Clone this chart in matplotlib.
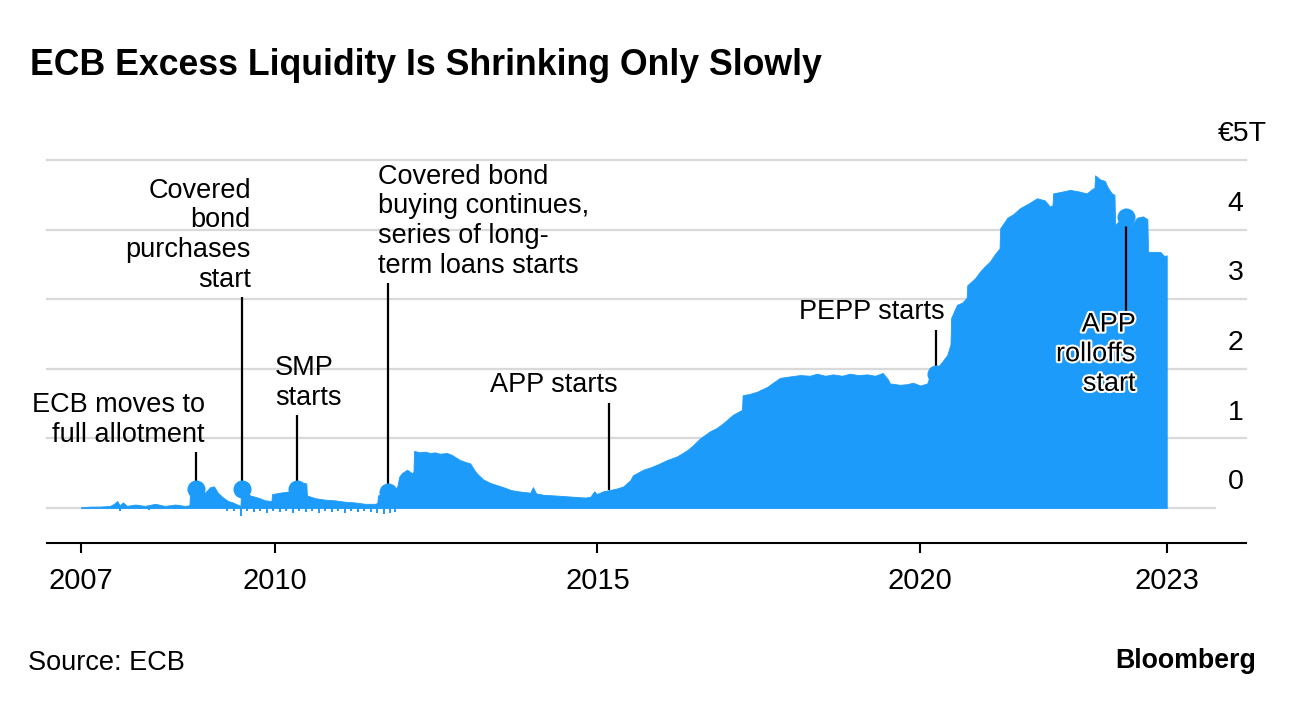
import matplotlib
matplotlib.use("Agg")
import matplotlib.pyplot as plt
import matplotlib.patheffects as pe
import matplotlib.transforms as mtransforms

plt.rcParams['font.family'] = ['Liberation Sans', 'DejaVu Sans']

# ---------------- data ----------------
dates = [
    2007.00, 2007.14, 2007.29, 2007.45, 2007.51, 2007.56, 2007.60, 2007.65, 2007.71, 2007.84, 2007.99, 2008.15, 2008.30, 2008.46, 2008.61, 2008.68,
    2008.69, 2008.78, 2008.84, 2008.92, 2009.00, 2009.06, 2009.12, 2009.20, 2009.28, 2009.35, 2009.42, 2009.47,
    2009.48, 2009.54, 2009.62, 2009.70, 2009.77, 2009.85, 2009.95,
    2009.96, 2010.08, 2010.24, 2010.26,
    2010.27, 2010.35, 2010.47, 2010.49,
    2010.50, 2010.63, 2010.78, 2010.93, 2011.09, 2011.24, 2011.40, 2011.55, 2011.59,
    2011.60, 2011.73, 2011.82, 2011.86, 2011.90, 2011.93, 2011.97, 2012.05, 2012.13, 2012.15,
    2012.16, 2012.25, 2012.33, 2012.41, 2012.48, 2012.56, 2012.67, 2012.75, 2012.87, 2012.96,
    2013.03, 2013.09, 2013.13, 2013.23, 2013.34, 2013.44, 2013.57, 2013.65, 2013.77, 2013.96,
    2014.00, 2014.05, 2014.16, 2014.34, 2014.50, 2014.65, 2014.81, 2014.89, 2014.95, 2014.99,
    2015.09, 2015.20, 2015.30, 2015.40, 2015.51, 2015.55, 2015.71, 2015.81, 2015.92, 2016.08,
    2016.23, 2016.39, 2016.48, 2016.59, 2016.74, 2016.85, 2016.95, 2017.10, 2017.24,
    2017.25, 2017.36, 2017.47, 2017.63, 2017.72, 2017.83, 2017.98, 2018.14, 2018.29, 2018.40,
    2018.53, 2018.65, 2018.79, 2018.91, 2019.04, 2019.18, 2019.30, 2019.42, 2019.50, 2019.53,
    2019.69, 2019.80, 2019.89, 2020.00, 2020.11, 2020.15, 2020.26, 2020.34, 2020.42, 2020.47,
    2020.48, 2020.57, 2020.65, 2020.72, 2020.73, 2020.85, 2020.93, 2021.00, 2021.08, 2021.16, 2021.23,
    2021.24, 2021.35, 2021.44, 2021.55, 2021.67, 2021.81, 2021.93, 2022.01, 2022.05, 2022.06,
    2022.17, 2022.32, 2022.45, 2022.58, 2022.66, 2022.70, 2022.71, 2022.79, 2022.86, 2022.91, 2022.97, 2023.01,
    2023.02, 2023.10, 2023.19, 2023.28, 2023.36, 2023.45, 2023.52,
    2023.53, 2023.64, 2023.72, 2023.78, 2023.82,
]
liquidity = [  # € trillions
    0.01, 0.02, 0.02, 0.03, 0.06, 0.10, 0.04, 0.08, 0.03, 0.05, 0.03, 0.06, 0.03, 0.05, 0.03, 0.04,
    0.25, 0.30, 0.26, 0.22, 0.30, 0.31, 0.22, 0.15, 0.10, 0.08, 0.05, 0.03,
    0.27, 0.25, 0.18, 0.16, 0.14, 0.11, 0.10,
    0.20, 0.22, 0.24, 0.25,
    0.34, 0.35, 0.36, 0.35,
    0.18, 0.14, 0.12, 0.11, 0.09, 0.08, 0.06, 0.06, 0.07,
    0.18, 0.24, 0.20, 0.26, 0.31, 0.45, 0.50, 0.55, 0.50, 0.52,
    0.82, 0.80, 0.81, 0.79, 0.80, 0.78, 0.79, 0.76, 0.69, 0.66,
    0.64, 0.55, 0.50, 0.41, 0.36, 0.33, 0.29, 0.26, 0.24, 0.22,
    0.30, 0.21, 0.19, 0.18, 0.17, 0.16, 0.15, 0.16, 0.24, 0.20,
    0.24, 0.26, 0.28, 0.31, 0.40, 0.47, 0.55, 0.58, 0.62, 0.69,
    0.74, 0.83, 0.90, 1.00, 1.10, 1.15, 1.22, 1.34, 1.41,
    1.62, 1.64, 1.67, 1.74, 1.80, 1.87, 1.89, 1.91, 1.90, 1.93,
    1.90, 1.92, 1.90, 1.93, 1.91, 1.92, 1.90, 1.94, 1.85, 1.79,
    1.77, 1.78, 1.80, 1.76, 1.79, 1.90, 2.01, 2.10, 2.20, 2.35,
    2.73, 2.92, 2.95, 3.02, 3.20, 3.30, 3.40, 3.47, 3.54, 3.65, 3.73,
    4.02, 4.17, 4.22, 4.31, 4.37, 4.45, 4.42, 4.33, 4.35, 4.52,
    4.54, 4.57, 4.55, 4.52, 4.58, 4.60, 4.78, 4.72, 4.70, 4.60, 4.52, 4.50,
    4.07, 4.14, 4.19, 4.07, 4.17, 4.19, 4.15,
    3.68, 3.68, 3.68, 3.62, 3.63,
]

# short dips below zero at the end of reserve maintenance periods
dip_dates = [2007.60, 2008.05, 2009.26, 2009.37, 2009.48, 2009.57, 2009.68, 2009.77, 2009.88, 2009.97,
             2010.08, 2010.18, 2010.28, 2010.38, 2010.49, 2010.58, 2010.69, 2010.78, 2010.89, 2010.98,
             2011.09, 2011.18, 2011.29, 2011.38, 2011.49, 2011.59, 2011.69, 2011.79, 2011.86]
dip_values = [-0.05, -0.03, -0.05, -0.04, -0.12, -0.05, -0.06, -0.05, -0.07, -0.05,
              -0.06, -0.05, -0.07, -0.05, -0.06, -0.05, -0.07, -0.05, -0.06, -0.05,
              -0.07, -0.05, -0.06, -0.05, -0.06, -0.07, -0.08, -0.07, -0.06]

event_dates = [2008.78, 2009.50, 2010.35, 2011.75, 2015.18, 2020.25, 2023.19]
event_values = [0.27, 0.27, 0.28, 0.23, 0.26, 1.93, 4.18]
event_has_dot = [True, True, True, True, False, True, True]
event_labels = ["ECB moves to\nfull allotment",
                "Covered\nbond\npurchases\nstart",
                "SMP\nstarts",
                "Covered bond\nbuying continues,\nseries of long-\nterm loans starts",
                "APP starts",
                "PEPP starts",
                "APP\nrolloffs\nstart"]

y_ticks = [0, 1, 2, 3, 4, 5]
y_tick_labels = ["0", "1", "2", "3", "4", "€5T"]
x_ticks = [2007, 2010, 2015, 2020, dates[-1]]
x_tick_labels = ["2007", "2010", "2015", "2020", "2023"]

assert len(dates) == len(liquidity)
assert len(dip_dates) == len(dip_values)

# ---------------- drawing ----------------
BLUE = "#1d9bfb"
GRID = "#d9d9d9"
FS = 19.5

W, H = 1296, 704
fig = plt.figure(figsize=(W / 100, H / 100), dpi=100)
ax = fig.add_axes([47 / W, 1 - 543 / H, (1246 - 47) / W, (543 - 160) / H])
ax.set_xlim(2006.473, 2025.048)
ax.set_ylim(-0.503, 5.0)

for s in ["top", "left", "right"]:
    ax.spines[s].set_visible(False)
ax.spines["bottom"].set_linewidth(1.5)
ax.spines["bottom"].set_color("black")

# gridlines
for v in y_ticks:
    ax.axhline(v, xmin=0, xmax=(0.974 if v == 0 else 1.0), color=GRID, lw=1.6,
               zorder=0, clip_on=False)

# y labels (sit above their gridlines, right aligned)
ytrans = mtransforms.blended_transform_factory(ax.transAxes, ax.transData)
for v, lab in zip(y_ticks, y_tick_labels):
    xpos = 1.0177 if lab.startswith("€") else 0.998
    ax.text(xpos, v + 0.37, lab, transform=ytrans, ha="right", va="center",
            fontsize=20.5, clip_on=False)
ax.set_yticks([])

# area
ax.fill_between(dates, liquidity, 0, color=BLUE, lw=0.6, edgecolor=BLUE, zorder=2)
ax.vlines(dip_dates, dip_values, 0.02, color=BLUE, lw=1.4, zorder=2)

# x axis ticks
ax.set_xticks(x_ticks)
ax.set_xticklabels(x_tick_labels, fontsize=21)
ax.tick_params(axis="x", length=7, width=1.5, pad=10, color="black")

# annotations: (label pos x, label pos y, ha, leader end y)
ann_layout = [
    (2008.92, 1.264, "right", 0.80),
    (2009.63, 3.92, "right", 3.03),
    (2010.005, 1.80, "left", 1.34),
    (2011.60, 4.12, "left", 3.23),
    (2015.32, 1.77, "right", 1.51),
    (2020.385, 2.82, "right", 2.56),
    (2023.34, 2.21, "right", 2.82),
]
for (tx, ty, ha, ly), ex, ev, dot, lab in zip(ann_layout, event_dates, event_values,
                                              event_has_dot, event_labels):
    ax.plot([ex, ex], [ev, ly], color="black", lw=1.6, zorder=3, solid_capstyle="butt")
    if dot:
        ax.plot([ex], [ev], "o", color=BLUE, ms=13, mew=0, zorder=4)
    t = ax.text(tx, ty, lab, ha=ha, va="center", fontsize=FS, linespacing=1.18,
                zorder=5, multialignment=ha)
    if "rolloffs" in lab:
        t.set_path_effects([pe.withStroke(linewidth=3, foreground="white")])

# title & footer
fig.text(30 / W, 1 - 75 / H, "ECB Excess Liquidity Is Shrinking Only Slowly",
         fontsize=25.7, fontweight="bold", va="baseline")
fig.text(28 / W, 1 - 663 / H, "Source: ECB", fontsize=FS, va="center")
fig.text(1256 / W, 1 - 661 / H, "Bloomberg", fontsize=19.3, fontweight="bold",
         ha="right", va="center")

fig.savefig("out.png", dpi=100)
